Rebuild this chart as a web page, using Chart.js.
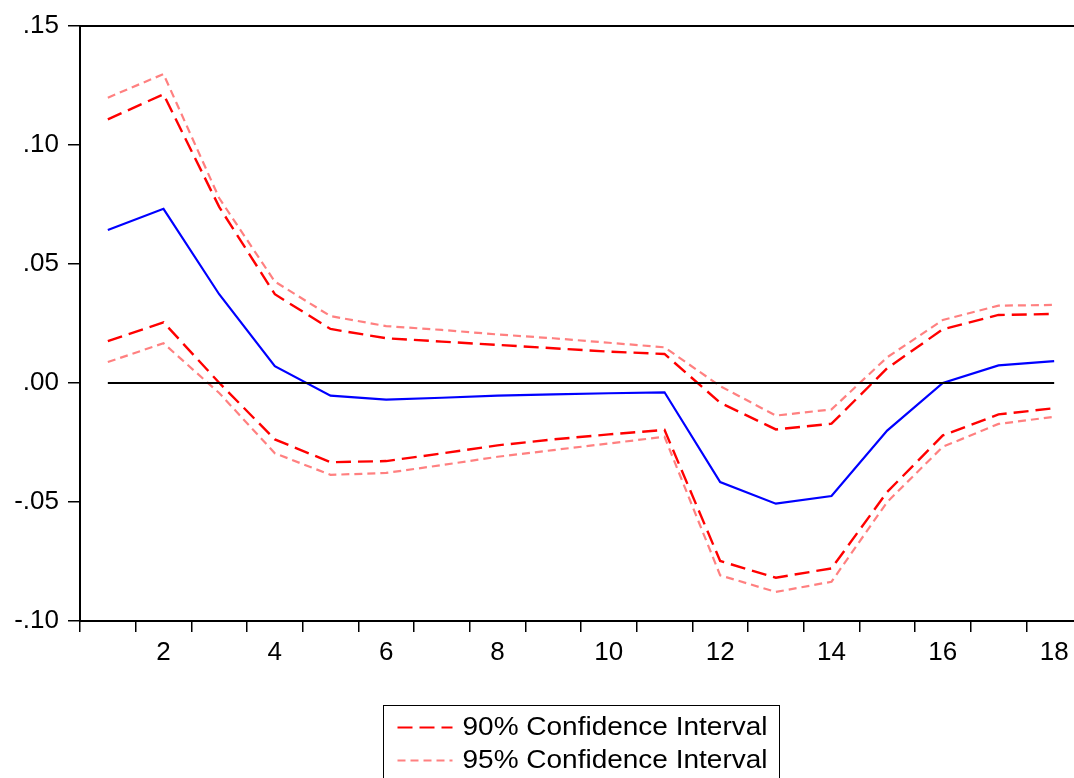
<!DOCTYPE html>
<html>
<head>
<meta charset="utf-8">
<script src="https://cdn.jsdelivr.net/npm/chart.js@4/dist/chart.umd.min.js"></script>
<style>
  html, body { margin: 0; padding: 0; background: #fff; overflow: hidden; }
  #wrap { width: 1082px; height: 778px; }
</style>
</head>
<body>
<div id="wrap"><canvas id="irfChart" width="1082" height="778"></canvas></div>
<script>
// periods on the x axis
const periods = ['1', '2', '3', '4', '5', '6', '7', '8', '9', '10', '11', '12', '13', '14', '15', '16', '17', '18'];

// impulse response (blue)
const response = [0.0643, 0.0732, 0.0373, 0.0071, -0.0053, -0.0070, -0.0062, -0.0053, -0.0048, -0.0043, -0.0039, -0.0416, -0.0507, -0.0475, -0.0200, 0.0000, 0.0074, 0.0092];

// 90% confidence band
const upper90 = [0.1108, 0.1213, 0.0740, 0.0373, 0.0227, 0.0188, 0.0174, 0.0160, 0.0146, 0.0132, 0.0122, -0.0083, -0.0195, -0.0171, 0.0062, 0.0226, 0.0286, 0.0290];
const lower90 = [0.0176, 0.0255, 0.0001, -0.0237, -0.0333, -0.0328, -0.0296, -0.0262, -0.0237, -0.0216, -0.0197, -0.0748, -0.0818, -0.0779, -0.0458, -0.0220, -0.0132, -0.0106];

// 95% confidence band
const upper95 = [0.1199, 0.1298, 0.0777, 0.0426, 0.0281, 0.0239, 0.0223, 0.0204, 0.0188, 0.0169, 0.0150, -0.0013, -0.0137, -0.0111, 0.0108, 0.0265, 0.0325, 0.0328];
const lower95 = [0.0088, 0.0167, -0.0042, -0.0295, -0.0386, -0.0378, -0.0345, -0.0310, -0.0282, -0.0254, -0.0226, -0.0808, -0.0878, -0.0835, -0.0500, -0.0268, -0.0172, -0.0142];

// zero reference line
const zeroLine = [0, 0, 0, 0, 0, 0, 0, 0, 0, 0, 0, 0, 0, 0, 0, 0, 0, 0];

const yTicks = [-0.10, -0.05, 0.00, 0.05, 0.10, 0.15];

const legendOrder = ['90% Confidence Interval', '95% Confidence Interval'];

const FONT = '"Liberation Sans", Arial, sans-serif';

function fmtTick(v) {
    let s = Math.abs(v).toFixed(2).replace(/^0/, '');
    return (v < -1e-9 ? '-' : '') + s;
}

// frame top line + boxed legend under the plot
const framePlugin = {
    id: 'frame',
    afterDraw(chart) {
        const ctx = chart.ctx;
        const a = chart.chartArea;
        ctx.save();
        ctx.strokeStyle = '#000';
        ctx.lineWidth = 2;
        ctx.beginPath();
        ctx.moveTo(a.left, a.top);
        ctx.lineTo(a.right, a.top);
        ctx.stroke();

        // legend
        const items = legendOrder.map(name => chart.data.datasets.find(d => d.label === name));
        const boxW = 396;
        const cx = (a.left + a.right) / 2;
        const bx = Math.round(cx - boxW / 2) + 0.5;
        const by = 705.5;
        ctx.lineWidth = 1;
        ctx.strokeStyle = '#000';
        ctx.strokeRect(bx, by, boxW, 80);
        ctx.font = '26px ' + FONT;
        ctx.textBaseline = 'middle';
        ctx.fillStyle = '#000';
        items.forEach((d, i) => {
            const y = by + 22 + i * 33;
            ctx.save();
            ctx.strokeStyle = d.borderColor;
            ctx.lineWidth = 2;
            ctx.setLineDash(d.borderDash);
            ctx.beginPath();
            ctx.moveTo(bx + 14, y);
            ctx.lineTo(bx + 69, y);
            ctx.stroke();
            ctx.restore();
            // the original legend text is set a little wide
            const w = ctx.measureText(d.label).width;
            const sx = 305 / w;
            ctx.save();
            ctx.translate(bx + 79, y);
            ctx.scale(sx, 1);
            ctx.fillText(d.label, 0, 0);
            ctx.restore();
        });
        ctx.restore();
    }
};

const config = {
    type: 'line',
    data: {
        labels: periods,
        datasets: [
            {
                label: 'zero',
                data: zeroLine,
                borderColor: '#000',
                borderWidth: 2,
                pointRadius: 0
            },
            {
                label: '95% Confidence Interval',
                data: upper95,
                borderColor: '#FF8080',
                borderWidth: 2.2,
                borderDash: [8, 5],
                pointRadius: 0
            },
            {
                label: '95% lower',
                data: lower95,
                borderColor: '#FF8080',
                borderWidth: 2.2,
                borderDash: [8, 5],
                pointRadius: 0
            },
            {
                label: '90% Confidence Interval',
                data: upper90,
                borderColor: '#FF0000',
                borderWidth: 2.4,
                borderDash: [15, 7],
                pointRadius: 0
            },
            {
                label: '90% lower',
                data: lower90,
                borderColor: '#FF0000',
                borderWidth: 2.4,
                borderDash: [15, 7],
                pointRadius: 0
            },
            {
                label: 'response',
                data: response,
                borderColor: '#0000FF',
                borderWidth: 2.2,
                pointRadius: 0
            }
        ]
    },
    options: {
        responsive: false,
        animation: false,
        layout: { padding: { top: 26, right: 0, bottom: 0, left: 0 } },
        plugins: {
            legend: { display: false },
            tooltip: { enabled: false }
        },
        scales: {
            x: {
                type: 'category',
                offset: true,
                grid: {
                    offset: true,
                    drawOnChartArea: false,
                    drawTicks: true,
                    tickLength: 11,
                    color: '#000',
                    lineWidth: 1.5
                },
                border: { display: true, color: '#000', width: 2 },
                ticks: {
                    autoSkip: false,
                    maxRotation: 0,
                    padding: 5,
                    color: '#000',
                    font: { family: FONT, size: 26 },
                    callback: (v, i) => ((i + 1) % 2 === 0 ? periods[i] : '')
                },
                afterFit: (scale) => { scale.height = 157; }
            },
            y: {
                min: -0.10,
                max: 0.15,
                afterBuildTicks: (scale) => { scale.ticks = yTicks.map(v => ({ value: v })); },
                grid: {
                    drawOnChartArea: false,
                    drawTicks: true,
                    tickLength: 12,
                    color: '#000',
                    lineWidth: 1.5
                },
                border: { display: true, color: '#000', width: 2 },
                ticks: {
                    padding: 9,
                    color: '#000',
                    font: { family: FONT, size: 26 },
                    callback: (v) => fmtTick(v)
                },
                afterFit: (scale) => { scale.width = 80; }
            }
        }
    },
    plugins: [framePlugin]
};

const irfChart = new Chart(document.getElementById('irfChart'), config);
</script>
</body>
</html>
